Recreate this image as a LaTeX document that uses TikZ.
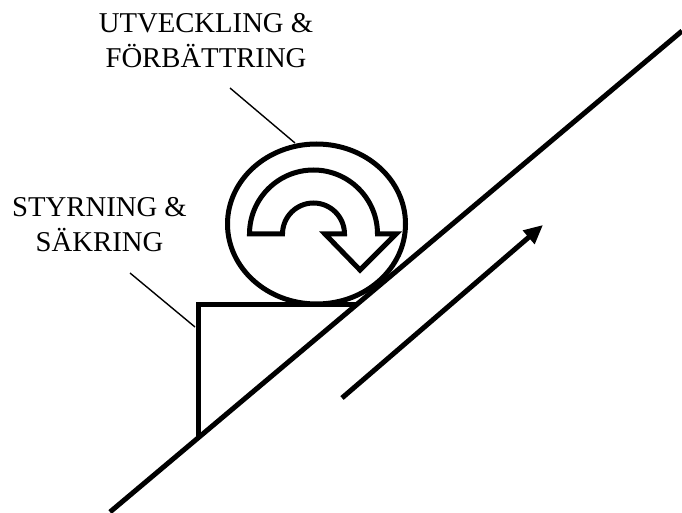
\documentclass[tikz,border=0pt]{standalone}
\usepackage{fontspec}
\setmainfont{Liberation Serif}
\usetikzlibrary{arrows.meta}

\begin{document}
\begin{tikzpicture}[x=1pt,y=1pt,
 lbl/.style={font=\fontsize{28.7}{35}\selectfont,align=center,anchor=base,inner sep=0pt},
 thk/.style={line width=5pt,line join=miter},
 ldr/.style={line width=1.4pt},
 mov/.style={line width=5pt,-{Triangle[length=19pt,width=17pt]}}]
\useasboundingbox (0,0) rectangle (682,512);
% slope
\coordinate (s0) at (110,0);
\coordinate (s1) at (682,481);
\draw[thk] (s0) -- (s1);
% wedge
\coordinate (w0) at (198,74);
\coordinate (w1) at (198,207.5);
\coordinate (w2) at (356.7,207.5);
\draw[thk] (w0) -- (w1) -- (w2);
% wheel
\coordinate (wh) at (316.5,288);
\draw[thk] (wh) ellipse [x radius=89,y radius=80];
\draw[line width=5pt,line join=miter] (249.5,278) arc (180:0:64) -- (396,278) -- (360,242)
 -- (325,278) -- (344.5,278) arc (0:180:31) -- cycle;
% direction
\coordinate (m0) at (342,114);
\coordinate (m1) at (543,287);
\draw[mov] (m0) -- (m1);
% labels (base = last line)
\node[lbl] (utv) at (206,444) {UTVECKLING \&\\FÖRBÄTTRING};
\node[lbl] (sty) at (99.5,261) {STYRNING \&\\SÄKRING};
\coordinate (u0) at (230,424);
\coordinate (u1) at (295,369);
\coordinate (t0) at (130,239);
\coordinate (t1) at (195,185);
\draw[ldr] (u0) -- (u1);
\draw[ldr] (t0) -- (t1);
\end{tikzpicture}
\end{document}
